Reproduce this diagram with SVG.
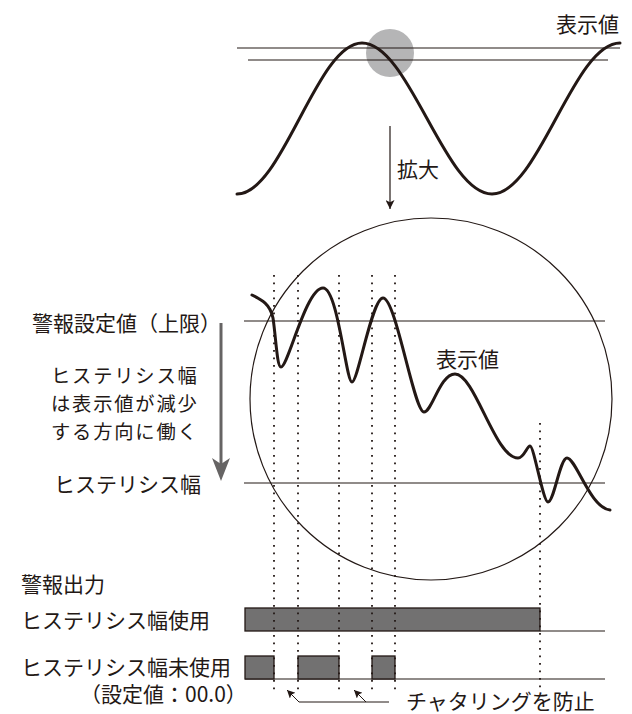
<svg xmlns="http://www.w3.org/2000/svg" width="632" height="714" viewBox="0 0 632 714">
<defs>
<style>
.t{font-family:"Noto Sans CJK JP","Noto Sans CJK SC",sans-serif;font-size:21px;fill:#231815}
.tb{font-family:"Noto Sans CJK JP","Noto Sans CJK SC",sans-serif;font-size:19.3px;letter-spacing:1.8px;fill:#231815}
.ln{stroke:#231815;stroke-width:1.2;fill:none}
.wave{stroke:#231815;stroke-width:3;fill:none;stroke-linecap:round;stroke-linejoin:round}
.dot{stroke:#231815;stroke-width:1.8;stroke-dasharray:1.8 5.7;fill:none}
.bar{fill:#727171;stroke:#231815;stroke-width:1.3}
</style>
<marker id="ah" viewBox="0 0 10 10" refX="10" refY="5" markerWidth="11" markerHeight="9" markerUnits="userSpaceOnUse" orient="auto">
<path d="M0,0 L10,5 L0,10 L2.5,5 Z" fill="#231815"/>
</marker>
<marker id="ahs" viewBox="0 0 10 10" refX="10" refY="5" markerWidth="10" markerHeight="8" markerUnits="userSpaceOnUse" orient="auto">
<path d="M0,0 L10,5 L0,10 L2,5 Z" fill="#231815"/>
</marker>
</defs>

<!-- top overview -->
<g id="overview">
<circle cx="390" cy="53" r="24" fill="#b5b5b6"/>
<line class="ln" x1="237" y1="48" x2="620" y2="48"/>
<line class="ln" x1="248" y1="60" x2="608" y2="60"/>
<path class="wave" d="M237,194 C282.5,194 316.5,43 362,43 C409.3,43 444.7,194 492,194 C538.6,194 573.4,43 620,43"/>
<text class="t" x="556" y="32">表示値</text>
</g>

<!-- magnified view -->
<g id="magnified">
<circle class="ln" cx="431" cy="399" r="181"/>
<line class="ln" x1="244" y1="321" x2="605" y2="321"/>
<line class="ln" x1="244" y1="483" x2="605" y2="483"/>
<path class="wave" d="M252,295 C262,300 270,304 273,318 C276,338 277,367 281,367 C288,367 306,288 323,288 C338,288 346,382 352,382 C358,382 372,298 383,298 C396,298 414,412 424,412 C432,412 440,374 455,374 C475,374 495,458 518,458 C524,458 527,446 530,446 C534,446 543,502 548,502 C554,502 560,458 567,458 C576,458 590,508 610,510"/>
<text class="t" x="436" y="367">表示値</text>
</g>

<g id="labels-left">
<text class="t" x="32" y="331">警報設定値（上限）</text>
<text class="tb" x="51" y="383">ヒステリシス幅</text>
<text class="tb" x="51" y="411">は表示値が減少</text>
<text class="tb" x="51" y="439">する方向に働く</text>
<text class="t" x="54" y="492">ヒステリシス幅</text>
</g>

<g id="hys-arrow">
<line x1="221" y1="323" x2="221" y2="464" stroke="#666464" stroke-width="3"/>
<path d="M221,481 L212,458 L221,464 L230,458 Z" fill="#666464"/>
</g>

<g id="outputs">
<text class="t" x="21" y="592">警報出力</text>
<text class="t" x="21" y="628">ヒステリシス幅使用</text>
<text class="t" x="21" y="675">ヒステリシス幅未使用</text>
<text class="t" x="80" y="702">（設定値：00.0）</text>
<rect class="bar" x="245" y="608" width="295" height="23"/>
<line class="ln" x1="540" y1="631" x2="605" y2="631"/>
<line class="ln" x1="245" y1="679" x2="605" y2="679"/>
<rect class="bar" x="245" y="656" width="29" height="23"/>
<rect class="bar" x="298" y="656" width="41" height="23"/>
<rect class="bar" x="372" y="656" width="23" height="23"/>
<text class="t" x="406" y="709">チャタリングを防止</text>
</g>

<g id="connectors">
<line x1="390" y1="126" x2="390" y2="209" stroke="#231815" stroke-width="1.2" marker-end="url(#ah)"/>
<text class="t" x="397" y="177">拡大</text>
<line class="dot" x1="274" y1="275" x2="274" y2="692"/>
<line class="dot" x1="298" y1="275" x2="298" y2="692"/>
<line class="dot" x1="339" y1="275" x2="339" y2="692"/>
<line class="dot" x1="372" y1="275" x2="372" y2="692"/>
<line class="dot" x1="395" y1="275" x2="395" y2="692"/>
<line class="dot" x1="540" y1="423" x2="540" y2="692"/>
<polyline points="389,702 299,702 287,690" stroke="#231815" stroke-width="1" fill="none" marker-end="url(#ahs)"/>
<line x1="366" y1="702" x2="354" y2="690" stroke="#231815" stroke-width="1" marker-end="url(#ahs)"/>
</g>
</svg>
